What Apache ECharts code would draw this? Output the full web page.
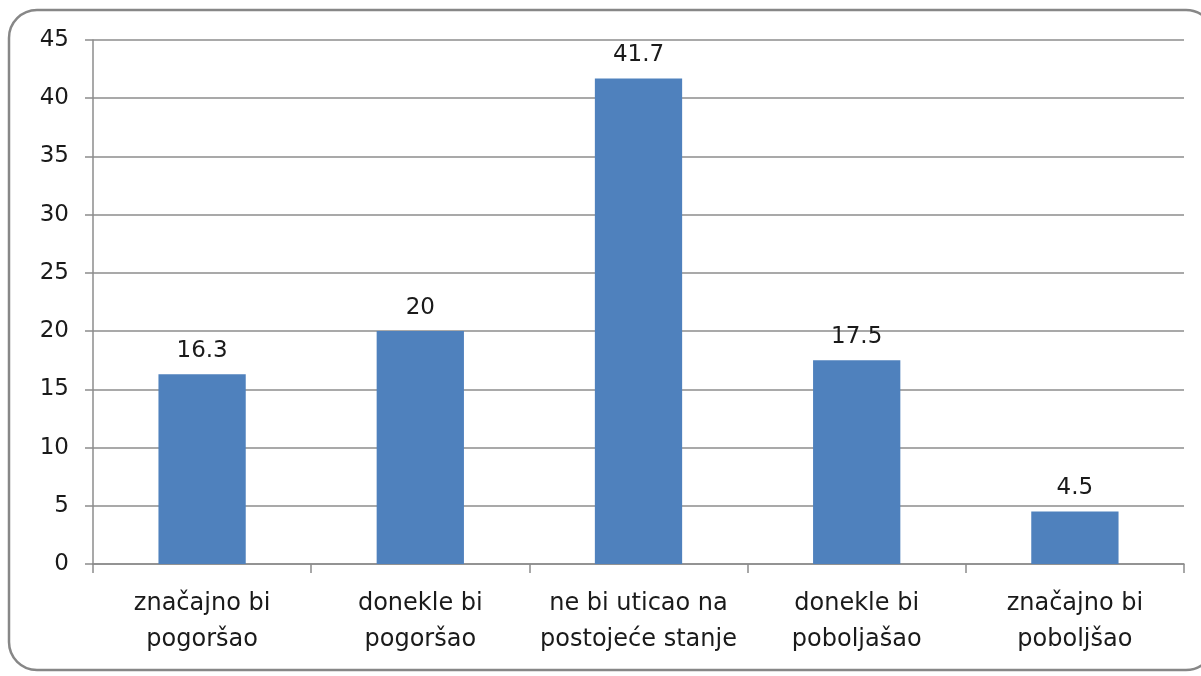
<!DOCTYPE html>
<html><head><meta charset="utf-8">
<script src="https://cdn.jsdelivr.net/npm/echarts@6/dist/echarts.min.js"></script>
<style>html,body{margin:0;padding:0;background:#fff}#c{width:1201px;height:676px}</style>
</head><body><div id="c"></div>
<script>
const categories = ['značajno bi\npogoršao', 'donekle bi\npogoršao', 'ne bi uticao na\npostojeće stanje', 'donekle bi\npoboljašao', 'značajno bi\npoboljšao'];
const values = [16.3, 20, 41.7, 17.5, 4.5];
const yTicks = [0, 5, 10, 15, 20, 25, 30, 35, 40, 45];

const chart = echarts.init(document.getElementById('c'));
const font = '"DejaVu Sans", sans-serif';
chart.setOption({
  animation: false,
  graphic: [{
    type: 'rect', shape: {x: 9, y: 10, width: 1205, height: 660, r: 28},
    style: {fill: 'none', stroke: '#878787', lineWidth: 2.5}, z: 0
  }],
  grid: {left: 93, right: 17, top: 40, bottom: 112},
  xAxis: {
    type: 'category', data: categories,
    axisLine: {lineStyle: {color: '#8c8c8c', width: 1.5}},
    axisTick: {show: true, length: 9, lineStyle: {color: '#8c8c8c', width: 1.5}},
    axisLabel: {interval: 0, color: '#1a1a1a', fontSize: 24, fontFamily: font, lineHeight: 36, margin: 22}
  },
  yAxis: {
    type: 'value', min: yTicks[0], max: yTicks[yTicks.length - 1], interval: 5,
    axisLine: {show: true, lineStyle: {color: '#8c8c8c', width: 1.5}},
    axisTick: {show: true, length: 8, lineStyle: {color: '#8c8c8c', width: 1.5}},
    splitLine: {lineStyle: {color: '#8c8c8c', width: 1.5}},
    axisLabel: {color: '#1a1a1a', fontSize: 23, fontFamily: font, margin: 24}
  },
  series: [{
    type: 'bar', data: values, barWidth: '40%',
    itemStyle: {color: '#4F81BD'},
    label: {show: true, position: 'top', distance: 12, color: '#1a1a1a', fontSize: 23, fontFamily: font}
  }]
});
</script></body></html>
